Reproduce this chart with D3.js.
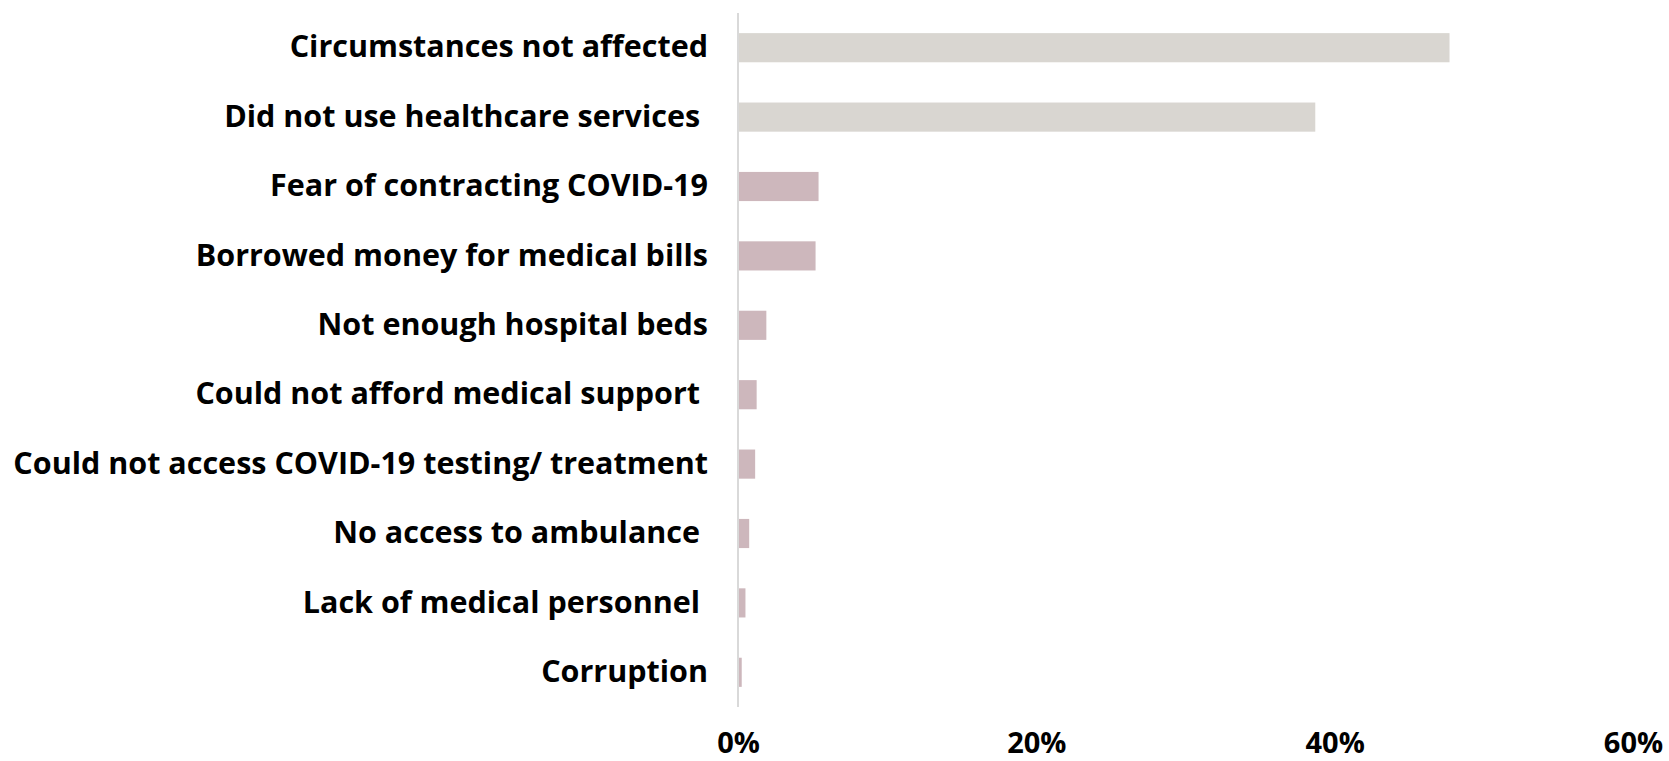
<!DOCTYPE html>
<html>
<head>
<meta charset="utf-8">
<script src="https://cdn.jsdelivr.net/npm/d3@7"></script>
<style>
  html, body { margin: 0; padding: 0; background: #ffffff; }
  svg { display: block; }
  text { font-family: "Open Sans", "Noto Sans", sans-serif; font-weight: 700; fill: #000; white-space: pre; }
</style>
</head>
<body>
<svg id="chart" width="1669" height="761"></svg>
<script>
// Reasons reported, top to bottom
const categories = [
  "Circumstances not affected",
  "Did not use healthcare services ",
  "Fear of contracting COVID-19",
  "Borrowed money for medical bills",
  "Not enough hospital beds",
  "Could not afford medical support ",
  "Could not access COVID-19 testing/ treatment",
  "No access to ambulance ",
  "Lack of medical personnel ",
  "Corruption"
];
// Share of respondents (%)
const values = [47.7, 38.7, 5.4, 5.2, 1.9, 1.25, 1.15, 0.75, 0.5, 0.25];
// First two rows are shown in neutral grey, the rest in muted rose
const groups = ["neutral", "neutral", "impact", "impact", "impact", "impact", "impact", "impact", "impact", "impact"];
const tickValues = [0, 20, 40, 60];

const colors = { neutral: "#D9D6D1", impact: "#CDB7BC" };

const svg = d3.select("#chart");

const x = d3.scaleLinear().domain([0, 60]).range([738, 1633]);
const y = d3.scaleBand()
  .domain(categories)
  .range([13, 707])
  .paddingInner(0.58)
  .paddingOuter(0.29);

// Bars
svg.append("g")
  .selectAll("rect")
  .data(categories)
  .join("rect")
  .attr("x", x(0))
  .attr("y", d => y(d))
  .attr("width", (d, i) => x(values[i]) - x(0))
  .attr("height", y.bandwidth())
  .attr("fill", (d, i) => colors[groups[i]]);

// Category axis (left): vertical rule only, labels right-aligned
const yAxis = svg.append("g")
  .attr("transform", `translate(${x(0)},0)`)
  .call(d3.axisLeft(y).tickSize(0).tickPadding(30));
yAxis.select(".domain").attr("stroke", "#D9D9D9").attr("stroke-width", 2)
  .attr("d", `M0,13V707`);
yAxis.selectAll("text")
  .attr("font-size", 30.5)
  .style("font-family", "'Open Sans', 'Noto Sans', sans-serif")
  .style("font-weight", 700)
  .attr("fill", "#000");

// Value axis (bottom): tick labels only
const xAxis = svg.append("g")
  .attr("transform", "translate(0,732)")
  .call(d3.axisBottom(x).tickValues(tickValues).tickFormat(d => d + "%").tickSize(0).tickPadding(0));
xAxis.select(".domain").remove();
xAxis.selectAll("text")
  .attr("font-size", 29)
  .style("font-family", "'Open Sans', 'Noto Sans', sans-serif")
  .style("font-weight", 700)
  .attr("fill", "#000");
</script>
</body>
</html>
